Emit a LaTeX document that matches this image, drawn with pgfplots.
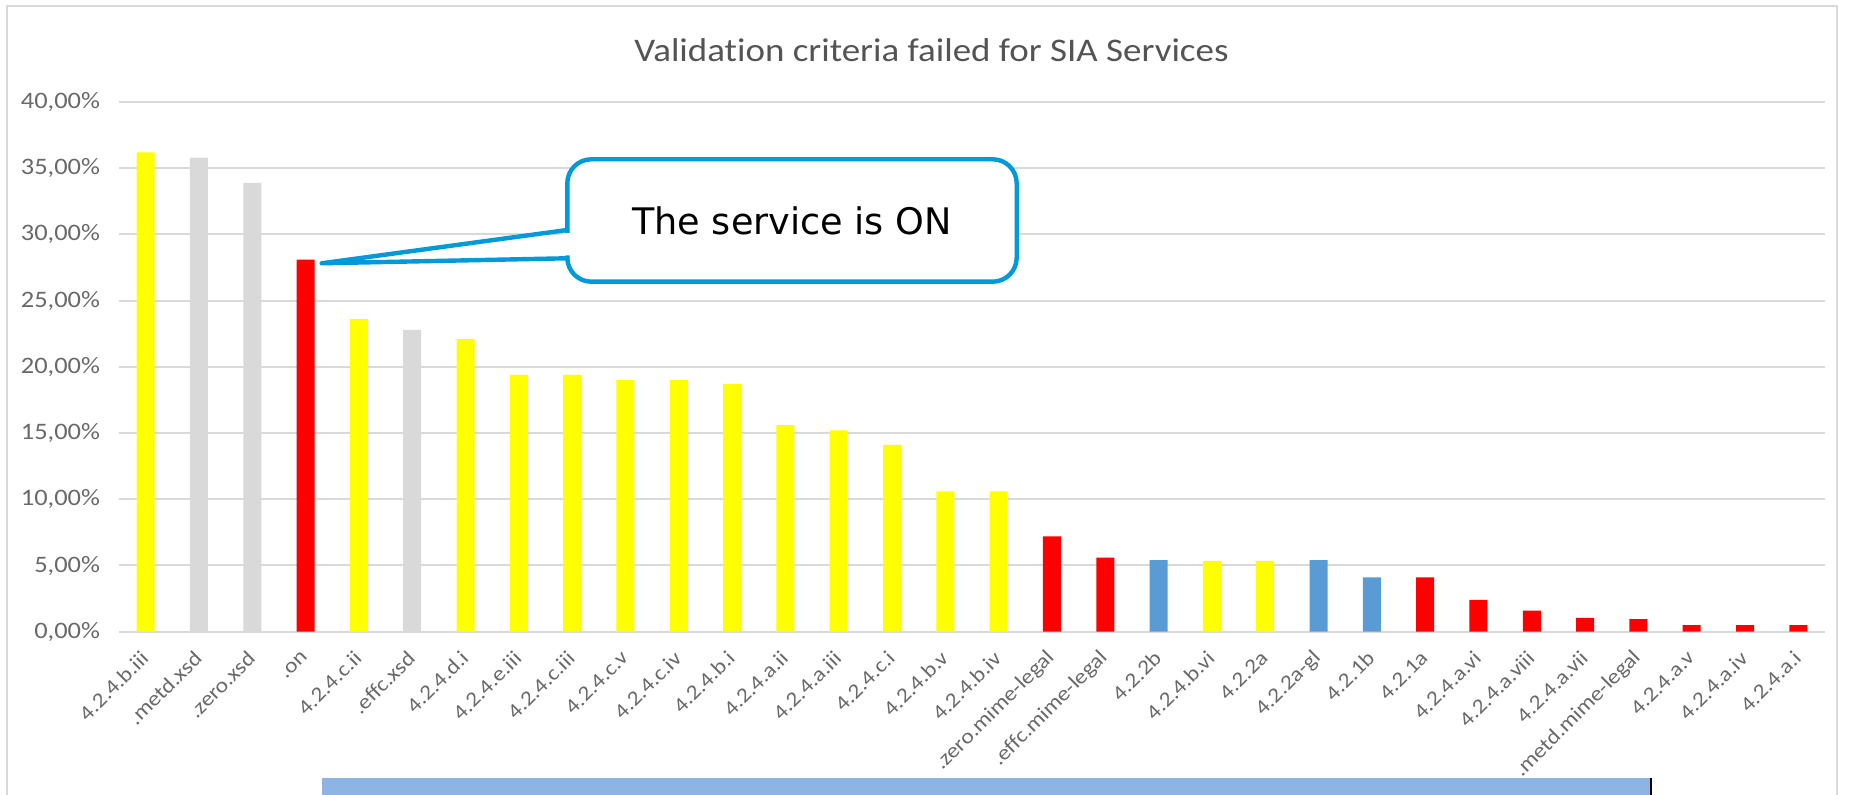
\documentclass[border=0pt]{standalone}
\usepackage{pgfplots}
\pgfplotsset{compat=1.18}
\usepackage{fontspec}
\setmainfont{Carlito}[FakeStretch=1.12,Ligatures=NoCommon]
\newfontfamily\callfont{DejaVu Sans}
\definecolor{barY}{RGB}{255,255,0}
\definecolor{barG}{RGB}{217,217,217}
\definecolor{barR}{RGB}{255,0,0}
\definecolor{barB}{RGB}{91,155,213}
\definecolor{gridc}{RGB}{217,217,217}
\definecolor{txt}{RGB}{105,105,105}
\definecolor{callblue}{RGB}{0,153,218}
\definecolor{boxblue}{RGB}{142,180,227}
\begin{document}
\begin{tikzpicture}[x=1pt,y=1pt]
 \useasboundingbox (-59.5,-81.65) rectangle (865,315.85);
 \clip (-59.5,-81.65) rectangle (865,315.85);
 \draw[gridc,line width=1pt] (-56,-100) rectangle (859,312.85);
 \begin{axis}[at={(0,0)},anchor=south west,scale only axis,width=853pt,height=264.85pt,
  xmin=-0.5,xmax=31.5,ymin=0,ymax=40,enlargelimits=false,
  ybar,bar width=9pt,bar shift=0pt,
  axis line style={draw=none},major tick length=0pt,
  ymajorgrids,grid style={gridc,line width=1pt},
  ytick={0,5,...,40},
  yticklabels={{0,00\%},{5,00\%},{10,00\%},{15,00\%},{20,00\%},{25,00\%},{30,00\%},{35,00\%},{40,00\%}},
  yticklabel style={font=\fontsize{11.8}{13}\selectfont,text=txt,xshift=-6pt},
  xtick={0,...,31},
  xticklabels={4.2.4.b.iii,.metd.xsd,.zero.xsd,.on,4.2.4.c.ii,.effc.xsd,4.2.4.d.i,4.2.4.e.iii,
   4.2.4.c.iii,4.2.4.c.v,4.2.4.c.iv,4.2.4.b.i,4.2.4.a.ii,4.2.4.a.iii,4.2.4.c.i,4.2.4.b.v,
   4.2.4.b.iv,.zero.mime-legal,.effc.mime-legal,4.2.2b,4.2.4.b.vi,4.2.2a,4.2.2a-gl,4.2.1b,
   4.2.1a,4.2.4.a.vi,4.2.4.a.viii,4.2.4.a.vii,.metd.mime-legal,4.2.4.a.v,4.2.4.a.iv,4.2.4.a.i},
  xticklabel style={xshift=2pt,yshift=-9pt,rotate=45,anchor=east,font=\fontsize{10.5}{11}\selectfont,text=txt},
 ]
  % yellow
  \addplot[fill=barY,draw=none] coordinates {(0,36.2)(4,23.6)(6,22.1)(7,19.4)(8,19.4)(9,19.0)
   (10,19.0)(11,18.7)(12,15.6)(13,15.2)(14,14.1)(15,10.6)(16,10.6)(20,5.35)(21,5.35)};
  % grey
  \addplot[fill=barG,draw=none] coordinates {(1,35.8)(2,33.9)(5,22.8)};
  % red
  \addplot[fill=barR,draw=none] coordinates {(3,28.1)(17,7.2)(18,5.6)(24,4.1)(25,2.4)(26,1.6)
   (27,1.05)(28,0.95)(29,0.5)(30,0.5)(31,0.5)};
  % blue
  \addplot[fill=barB,draw=none] coordinates {(19,5.4)(22,5.4)(23,4.1)};
 \end{axis}
 \node[text=txt!80!black,font=\fontsize{16.5}{19}\selectfont] at (406.25,290.85) {Validation criteria failed for SIA Services};
 % callout
 \filldraw[callblue,fill=white,line width=2.2pt,rounded corners=12pt] (224.15,175) rectangle (448.85,236.2);
 \fill[white] (101.35,184.2) -- (227,188.2) -- (227,199.3) -- cycle;
 \fill[white] (222,188.2) rectangle (227,199.3);
 \draw[callblue,line width=2.2pt,line join=round,line cap=round] (224.15,200.85) -- (101.35,184.2) -- (224.15,186.7);
 \node[font=\callfont\fontsize{18.3}{22}\selectfont] at (336.5,205.5) {The service is ON};
 % box cut off at the bottom
 \fill[boxblue] (101.5,-73.15) rectangle (766,-90);
 \draw[black,line width=1pt] (766,-73.15) -- (766,-90);
\end{tikzpicture}
\end{document}
